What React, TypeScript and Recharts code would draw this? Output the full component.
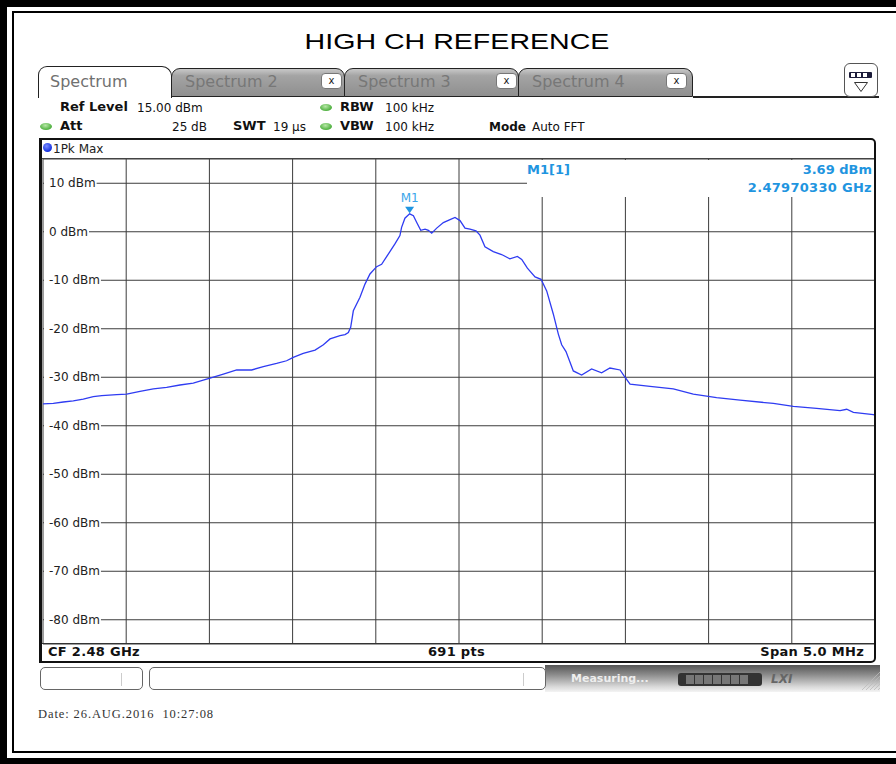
import React from "react";
import { LineChart, Line, XAxis, YAxis, CartesianGrid, ReferenceDot } from "recharts";

// trace (MHz, dBm)
const freqMHz = [
  2477.5, 2477.562, 2477.622, 2477.682, 2477.742, 2477.802, 2477.853, 2477.943, 2478.003, 2478.083,
  2478.163, 2478.243, 2478.323, 2478.403, 2478.463, 2478.504, 2478.584, 2478.664, 2478.754, 2478.824,
  2478.904, 2478.964, 2479.004, 2479.064, 2479.135, 2479.185, 2479.225, 2479.285, 2479.315, 2479.335,
  2479.349, 2479.365, 2479.405, 2479.435, 2479.465, 2479.505, 2479.535, 2479.575, 2479.615, 2479.645,
  2479.655, 2479.675, 2479.7033, 2479.726, 2479.746, 2479.77, 2479.796, 2479.816, 2479.836, 2479.866,
  2479.906, 2479.946, 2479.976, 2480.006, 2480.036, 2480.066, 2480.102, 2480.126, 2480.156, 2480.206,
  2480.256, 2480.306, 2480.351, 2480.377, 2480.411, 2480.457, 2480.493, 2480.527, 2480.567, 2480.597,
  2480.617, 2480.643, 2480.687, 2480.737, 2480.797, 2480.857, 2480.907, 2480.968, 2480.992, 2481.028,
  2481.148, 2481.288, 2481.408, 2481.548, 2481.689, 2481.889, 2482.009, 2482.149, 2482.29, 2482.33,
  2482.37, 2482.49, 2482.5,
];
const levelDbm = [
  -35.5, -35.4, -35.1, -34.85, -34.5, -34.0, -33.8, -33.6, -33.47, -32.9,
  -32.4, -32.1, -31.6, -31.2, -30.6, -30.17, -29.35, -28.5, -28.5, -27.8,
  -27.15, -26.6, -25.9, -25.1, -24.4, -23.3, -22.1, -21.4, -21.2, -20.8,
  -19.7, -16.3, -13.5, -10.8, -8.7, -7.2, -6.7, -4.6, -2.5, -0.8,
  0.9, 2.8, 3.69, 3.3, 1.9, 0.3, 0.55, 0.3, -0.3, 0.75,
  1.9, 2.5, 2.95, 2.3, 0.75, 0.55, 0.2, -0.7, -3.1, -4.1,
  -4.7, -5.6, -5.1, -5.7, -7.5, -9.3, -9.8, -12.2, -17.0, -21.1,
  -23.3, -24.7, -28.7, -29.55, -28.3, -29.1, -28.1, -28.5, -29.7, -31.4,
  -31.9, -32.4, -33.5, -34.2, -34.7, -35.4, -36.0, -36.4, -36.9, -36.6,
  -37.25, -37.7, -37.8,
];

const freqTicks = [2478, 2478.5, 2479, 2479.5, 2480, 2480.5, 2481, 2481.5, 2482];
const dbmTicks = [10, 0, -10, -20, -30, -40, -50, -60, -70, -80];
const freqStart = 2477.5;
const freqStop = 2482.5;
const refLevel = 15;
const bottomLevel = -85;

const markerFreq = 2479.7033;
const markerLevel = 3.69;

const data = freqMHz.map((f, i) => ({ f, dbm: levelDbm[i] }));

const UI = "'DejaVu Sans', Verdana, sans-serif";
const MARK = "#1f95e0";

// DejaVu Sans 12px advance widths, for the label knock-out boxes
const charW: Record<string, number> = { "-": 4.33, " ": 3.81, d: 7.62, B: 8.23, m: 11.69 };
const labelWidth = (s: string) => s.split("").reduce((w, c) => w + (charW[c] ?? 7.63), 0);

const DbTick = (props: any) => {
  const { x, y, payload } = props;
  const label = `${payload.value} dBm`;
  const w = labelWidth(label);
  return (
    <g>
      <rect x={x - 5} y={y - 8} width={w + 6} height={16} fill="#fff" />
      <text x={x} y={y + 4} fontSize={12} fontFamily={UI} fill="#222">
        {label}
      </text>
    </g>
  );
};

const MarkerShape = ({ cx, cy }: any) => (
  <g>
    <path d={`M${cx - 4.5},${cy - 7} L${cx + 4.5},${cy - 7} L${cx},${cy - 0.5} Z`} fill={MARK} />
    <text x={cx} y={cy - 12} textAnchor="middle" fontSize={12} fontFamily={UI} fill="#3aa5ea">
      M1
    </text>
  </g>
);

const abs = (left: number, top: number, extra: React.CSSProperties = {}): React.CSSProperties => ({
  position: "absolute",
  left,
  top,
  ...extra,
});

function T({ x, y, bold, size = 12, color = "#111", children, style }: any) {
  return (
    <div
      style={abs(x, y, {
        fontFamily: UI,
        fontSize: size,
        lineHeight: "14px",
        fontWeight: bold ? "bold" : "normal",
        color,
        whiteSpace: "pre",
        ...style,
      })}
    >
      {children}
    </div>
  );
}

const Led = ({ x, y }: { x: number; y: number }) => (
  <div
    style={abs(x, y, {
      width: 12,
      height: 7,
      borderRadius: "50%",
      background: "radial-gradient(ellipse at 45% 35%, #b8e8a8, #4caf3c 70%)",
    })}
  />
);

function Tab({ left, width, label, closeRight }: { left: number; width: number; label: string; closeRight: number }) {
  return (
    <div
      style={abs(left, 68, {
        width,
        height: 29,
        boxSizing: "border-box",
        border: "1.5px solid #222",
        borderBottom: "1.5px solid #222",
        borderRadius: "9px 9px 0 0",
        background: "linear-gradient(#c8c8c8, #a4a4a4 25%, #8f8f8f)",
      })}
    >
      <div style={abs(13, 4, { fontFamily: UI, fontSize: 16, lineHeight: "18px", color: "#777" })}>{label}</div>
      <div
        style={abs(width - closeRight - 22, 4, {
          width: 19,
          height: 14,
          background: "#fff",
          border: "1px solid #777",
          borderRadius: 4,
          fontFamily: UI,
          fontSize: 10,
          lineHeight: "13px",
          textAlign: "center",
          color: "#222",
        })}
      >
        x
      </div>
    </div>
  );
}

export default function App() {
  return (
    <div style={{ position: "relative", width: 896, height: 764, background: "#fff", overflow: "hidden" }}>
      <style>{"body{margin:0}"}</style>

      <div style={abs(0, 0)}>
        <LineChart width={896} height={764} data={data} margin={{ top: 159, right: 21, bottom: 120, left: 43 }}>
          <CartesianGrid stroke="#3c3c3c" strokeWidth={1} />
          <XAxis type="number" dataKey="f" domain={[freqStart, freqStop]} ticks={freqTicks} hide />
          <YAxis
            type="number"
            domain={[bottomLevel, refLevel]}
            ticks={dbmTicks}
            mirror
            axisLine={false}
            tickLine={false}
            tickSize={0}
            tickMargin={6}
            tick={<DbTick />}
          />
          <Line
            type="linear"
            dataKey="dbm"
            stroke="#2f3cf2"
            strokeWidth={1.3}
            dot={false}
            isAnimationActive={false}
          />
          <ReferenceDot x={markerFreq} y={markerLevel} r={4} shape={<MarkerShape />} />
        </LineChart>
      </div>

      {/* screenshot frame */}
      <div style={abs(0, 0, { width: 896, height: 7, background: "#000" })} />
      <div style={abs(0, 0, { width: 7, height: 764, background: "#000" })} />
      <div style={abs(0, 758, { width: 896, height: 6, background: "#000" })} />
      <div style={abs(12, 11, { width: 884, height: 2, background: "#000" })} />
      <div style={abs(12, 11, { width: 2, height: 742, background: "#000" })} />
      <div style={abs(12, 751, { width: 884, height: 2, background: "#000" })} />

      {/* title */}
      <div
        style={abs(0, 29, {
          width: 896,
          textAlign: "center",
          fontFamily: "'Liberation Sans', Arial, sans-serif",
          fontSize: 22.5,
          lineHeight: "26px",
          color: "#000",
          transform: "translateX(9px) scaleX(1.27)",
        })}
      >
        HIGH CH REFERENCE
      </div>

      {/* tabs */}
      <Tab left={171} width={174} label="Spectrum 2" closeRight={3} />
      <Tab left={344} width={175} label="Spectrum 3" closeRight={2} />
      <Tab left={518} width={175} label="Spectrum 4" closeRight={6} />
      <div
        style={abs(38, 66, {
          width: 134,
          height: 32,
          boxSizing: "border-box",
          border: "1.5px solid #222",
          borderBottom: "none",
          borderRadius: "9px 10px 0 0",
          background: "#fff",
        })}
      >
        <div style={abs(11, 6, { fontFamily: UI, fontSize: 16, lineHeight: "18px", color: "#707070" })}>Spectrum</div>
      </div>
      <div style={abs(693, 96, { width: 186, height: 1.5, background: "#222" })} />
      <div
        style={abs(844, 63, {
          width: 34,
          height: 34,
          boxSizing: "border-box",
          border: "1.5px solid #555",
          borderRadius: 6,
          background: "#fff",
        })}
      >
        <div style={abs(4, 8, { width: 23, height: 6, background: "#1c1c3a", borderRadius: 1 })}>
          {[2, 8, 14].map((l) => (
            <div key={l} style={abs(l, 1, { width: 4, height: 4, background: "#fff" })} />
          ))}
        </div>
        <svg style={abs(8, 17)} width={16} height={12}>
          <path d="M1.5,1.5 L14.5,1.5 L8,10.5 Z" fill="none" stroke="#333" strokeWidth={1} />
        </svg>
      </div>

      {/* settings */}
      <T x={60} y={100} bold size={13}>Ref Level</T>
      <T x={137} y={101}>15.00 dBm</T>
      <Led x={320} y={104} />
      <T x={340} y={100} bold size={13}>RBW</T>
      <T x={385} y={101}>100 kHz</T>

      <Led x={40} y={123} />
      <T x={60} y={119} bold size={13}>Att</T>
      <T x={172} y={120}>25 dB</T>
      <T x={233} y={119} bold size={13}>SWT</T>
      <T x={273} y={120}>19 µs</T>
      <Led x={320} y={123} />
      <T x={340} y={119} bold size={13}>VBW</T>
      <T x={385} y={120}>100 kHz</T>
      <T x={489} y={120} bold size={12}>Mode</T>
      <T x={532} y={120}>Auto FFT</T>

      {/* measurement window */}
      <div
        style={abs(39, 138, {
          width: 837,
          height: 525,
          boxSizing: "border-box",
          borderTop: "2px solid #111",
          borderRight: "2.5px solid #111",
          borderBottom: "2.5px solid #111",
          borderLeft: "3px solid #111",
          borderRadius: "0 5px 5px 0",
        })}
      />
      <div style={abs(42, 158, { width: 832, height: 1.2, background: "#444" })} />
      <div
        style={abs(43, 143, {
          width: 9,
          height: 9,
          borderRadius: "50%",
          background: "radial-gradient(circle at 40% 35%, #7a8cff, #1430e0 70%)",
        })}
      />
      <T x={53} y={142} color="#222">1Pk Max</T>

      {/* marker readout */}
      <div style={abs(527, 160, { width: 347, height: 37, background: "#fff" })} />
      <T x={527} y={163} bold size={13} color={MARK}>M1[1]</T>
      <T x={600} y={163} bold size={13} color={MARK} style={{ width: 272, textAlign: "right" }}>3.69 dBm</T>
      <T x={600} y={181} bold size={13} color={MARK} style={{ width: 272, textAlign: "right", letterSpacing: 0.3 }}>
        2.47970330 GHz
      </T>

      {/* footer row */}
      <div style={abs(42, 643, { width: 832, height: 1.2, background: "#333" })} />
      <T x={48} y={645} bold size={13} style={{ letterSpacing: 0.3 }}>CF 2.48 GHz</T>
      <T x={428} y={645} bold size={13} style={{ letterSpacing: 0.3 }}>691 pts</T>
      <T x={600} y={645} bold size={13} style={{ width: 264, textAlign: "right", letterSpacing: 0.3 }}>
        Span 5.0 MHz
      </T>

      {/* status bar */}
      <div
        style={abs(545, 665, {
          width: 335,
          height: 27,
          background: "linear-gradient(#555, #8a8a8a 35%, #d8d8d8 80%, #f4f4f4)",
        })}
      />
      <div
        style={abs(40, 667, {
          width: 103,
          height: 23,
          boxSizing: "border-box",
          border: "1px solid #666",
          borderRadius: 5,
          background: "#fff",
        })}
      >
        <div style={abs(80, 5, { width: 1, height: 13, background: "#ccc" })} />
      </div>
      <div
        style={abs(149, 667, {
          width: 397,
          height: 23,
          boxSizing: "border-box",
          border: "1px solid #666",
          borderRadius: 5,
          background: "#fff",
        })}
      >
        <div style={abs(373, 5, { width: 1, height: 13, background: "#ccc" })} />
      </div>
      <T x={571} y={672} bold size={11} color="#eee">Measuring...</T>
      <div style={abs(678, 673, { width: 84, height: 13, background: "#333", borderRadius: 3 })}>
        {[8, 17, 26, 35, 44, 53, 62].map((l) => (
          <div key={l} style={abs(l, 2, { width: 8, height: 9, background: "#777" })} />
        ))}
      </div>
      <div
        style={abs(771, 672, {
          fontFamily: UI,
          fontSize: 12,
          fontWeight: "bold",
          fontStyle: "italic",
          color: "#666",
          lineHeight: "14px",
        })}
      >
        LXI
      </div>
      <svg style={abs(862, 672)} width={18} height={20}>
        {[0, 4, 8, 12, 16].map((d) => (
          <line key={d} x1={18} y1={d} x2={d} y2={18} stroke="#bbb" strokeWidth={0.8} />
        ))}
      </svg>

      {/* date stamp */}
      <div
        style={abs(38, 707, {
          fontFamily: "'Liberation Serif', 'Times New Roman', serif",
          fontSize: 12.5,
          lineHeight: "15px",
          letterSpacing: 0.9,
          color: "#333",
          whiteSpace: "pre",
        })}
      >
        Date: 26.AUG.2016  10:27:08
      </div>
    </div>
  );
}
